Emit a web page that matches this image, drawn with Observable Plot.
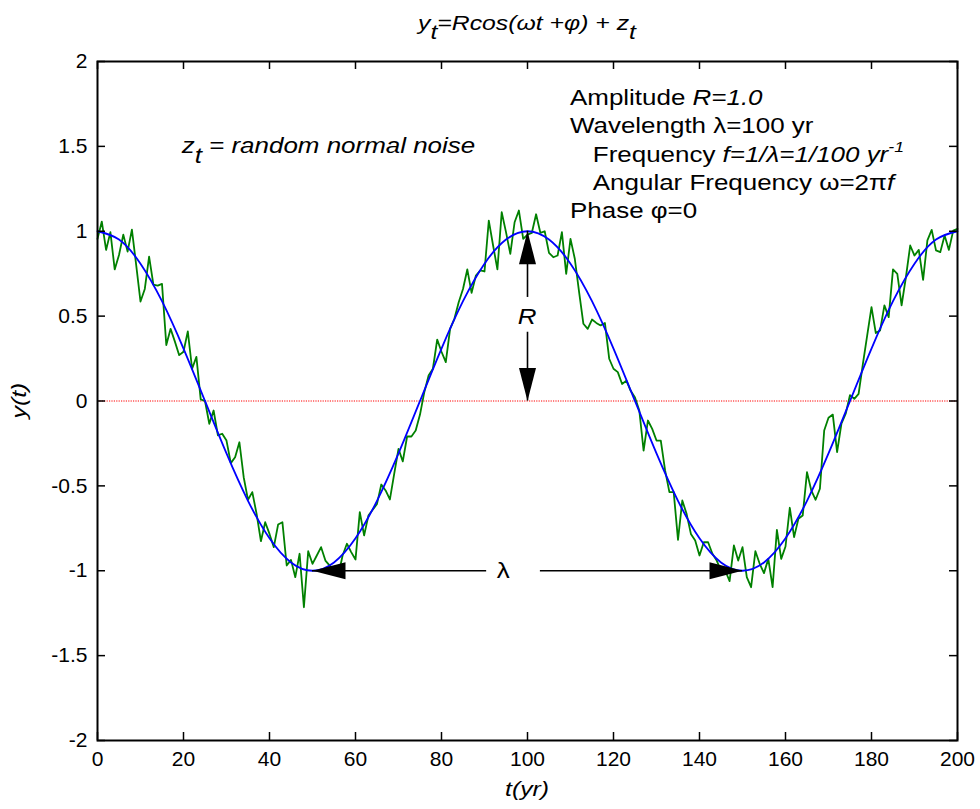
<!DOCTYPE html>
<html><head><meta charset="utf-8">
<script src="https://cdn.jsdelivr.net/npm/d3@7"></script>
<script src="https://cdn.jsdelivr.net/npm/@observablehq/plot@0.6"></script>
<style>
body{margin:0;background:#fff}
svg{font-family:"Liberation Sans",Arial,sans-serif}
</style>
</head><body><div id="chart"></div>
<script>
// ---------- data ----------
const noisyY = [
 0.955,1.057,0.89,0.995,0.775,0.86,0.98,0.88,1.01,0.80,
 0.586,0.66,0.85,0.685,0.68,0.69,0.33,0.425,0.35,0.27,
 0.29,0.41,0.19,0.26,0.01,0.0,-0.134,-0.056,-0.203,-0.193,
 -0.233,-0.366,-0.331,-0.243,-0.449,-0.582,-0.537,-0.665,-0.826,-0.714,
 -0.783,-0.861,-0.728,-0.714,-0.969,-0.936,-1.038,-0.90,-1.215,-0.885,
 -0.959,-0.91,-0.861,-0.94,-0.97,-1.008,-1.028,-0.91,-0.841,-0.89,
 -0.934,-0.655,-0.792,-0.675,-0.641,-0.606,-0.492,-0.527,-0.58,-0.429,
 -0.282,-0.356,-0.209,-0.209,-0.174,-0.08,0.052,0.15,0.19,0.362,
 0.29,0.229,0.425,0.484,0.582,0.66,0.775,0.637,0.739,0.769,
 0.763,1.063,0.916,0.775,1.112,0.995,0.867,1.053,1.122,0.955,
 0.98,0.99,1.10,0.99,1.00,0.873,0.847,0.857,0.995,0.749,
 0.955,0.838,0.641,0.455,0.425,0.48,0.46,0.445,0.46,0.249,
 0.19,0.17,0.10,0.12,0.06,0.02,-0.056,-0.292,-0.115,-0.164,
 -0.233,-0.233,-0.409,-0.537,-0.537,-0.818,-0.586,-0.665,-0.783,-0.822,
 -0.91,-0.832,-0.832,-0.90,-0.94,-0.999,-1.0,-1.061,-0.851,-0.94,
 -0.861,-1.038,-1.097,-0.885,-0.959,-1.014,-0.93,-1.097,-0.759,-0.93,
 -0.857,-0.629,-0.802,-0.694,-0.675,-0.419,-0.527,-0.582,-0.517,-0.174,
 -0.099,-0.08,-0.301,-0.134,-0.075,0.035,0.013,0.042,0.219,0.386,
 0.553,0.40,0.415,0.563,0.494,0.775,0.749,0.563,0.729,0.916,
 0.857,0.89,0.714,0.946,1.008,0.887,0.877,0.975,0.89,1.004,
 1.014
];
const noisyT = noisyY.map((_, i) => i);   // one value per year, t = 0..200

const cosT = [0,5,10,15,20,25,30,35,40,45,50,55,60,65,70,75,80,85,90,95,100,
              105,110,115,120,125,130,135,140,145,150,155,160,165,170,175,180,185,190,195,200];
const cosY = [1,0.951,0.809,0.588,0.309,0,-0.309,-0.588,-0.809,-0.951,-1,-0.951,-0.809,-0.588,-0.309,0,0.309,0.588,0.809,0.951,1,
              0.951,0.809,0.588,0.309,0,-0.309,-0.588,-0.809,-0.951,-1,-0.951,-0.809,-0.588,-0.309,0,0.309,0.588,0.809,0.951,1];

const xTicks = [0,20,40,60,80,100,120,140,160,180,200];
const xTickLabels = ["0","20","40","60","80","100","120","140","160","180","200"];
const yTicks = [-2,-1.5,-1,-0.5,0,0.5,1,1.5,2];
const yTickLabels = ["-2","-1.5","-1","-0.5","0","0.5","1","1.5","2"];

// annotation anchors (data units)
const rArrowSegs = [{x:100, y1:1, y2:0.61}, {x:100, y1:0.405, y2:0}];
const lambdaSegs = [{y:-1, x1:50, x2:90.5}, {y:-1, x1:103, x2:150}];
const headUp = [{x:100, y:1}], headDown = [{x:100, y:0}];
const headLeft = [{x:50, y:-1}], headRight = [{x:150, y:-1}];

// ---------- build ----------
const FONT = '"Liberation Sans", Arial, sans-serif';
const W = 980, H = 809, mL = 97, mR = 23, mT = 61, mB = 69;
const innerW = W - mL - mR, innerH = H - mT - mB, TL = 8;
const SX = 1.18;

const noisy = noisyT.map((t, i) => ({t, v: noisyY[i]}));
const clean = cosT.map((t, i) => ({t, v: cosY[i]}));

const HL = 33, HW = 8.5;
const sym = (dir) => ({draw(ctx){
  if (dir === "up")    { ctx.moveTo(0,0); ctx.lineTo(-HW,HL); ctx.lineTo(HW,HL); }
  if (dir === "down")  { ctx.moveTo(0,0); ctx.lineTo(-HW,-HL); ctx.lineTo(HW,-HL); }
  if (dir === "left")  { ctx.moveTo(0,0); ctx.lineTo(HL,-HW); ctx.lineTo(HL,HW); }
  if (dir === "right") { ctx.moveTo(0,0); ctx.lineTo(-HL,-HW); ctx.lineTo(-HL,HW); }
  ctx.closePath();
}});

const chart = Plot.plot({
  width: W, height: H,
  marginLeft: mL, marginRight: mR, marginTop: mT, marginBottom: mB,
  style: {fontFamily: FONT, fontSize: "21px", background: "white", color: "black"},
  x: {domain: [0, 200], label: null},
  y: {domain: [-2, 2], label: null},
  marks: [
    Plot.ruleY([0], {stroke: "red", strokeWidth: 1, strokeDasharray: "1.2,1.2"}),
    Plot.line(noisy, {x: "t", y: "v", stroke: "#008000", strokeWidth: 1.8}),
    Plot.line(clean, {x: "t", y: "v", stroke: "#0000ff", strokeWidth: 1.8, curve: "natural"}),
    Plot.ruleX(rArrowSegs, {x: "x", y1: "y1", y2: "y2", stroke: "black", strokeWidth: 1.6}),
    Plot.ruleY(lambdaSegs, {y: "y", x1: "x1", x2: "x2", stroke: "black", strokeWidth: 1.6}),
    Plot.dot(headUp, {x: "x", y: "y", symbol: sym("up"), fill: "black", stroke: "none"}),
    Plot.dot(headDown, {x: "x", y: "y", symbol: sym("down"), fill: "black", stroke: "none"}),
    Plot.dot(headLeft, {x: "x", y: "y", symbol: sym("left"), fill: "black", stroke: "none"}),
    Plot.dot(headRight, {x: "x", y: "y", symbol: sym("right"), fill: "black", stroke: "none"}),
    Plot.frame({stroke: "black", strokeWidth: 2}),
    Plot.tickX(xTicks, {x: d => d, insetTop: innerH - TL, stroke: "black", strokeWidth: 1.5}),
    Plot.tickX(xTicks, {x: d => d, insetBottom: innerH - TL, stroke: "black", strokeWidth: 1.5}),
    Plot.tickY(yTicks, {y: d => d, insetRight: innerW - TL, stroke: "black", strokeWidth: 1.5}),
    Plot.tickY(yTicks, {y: d => d, insetLeft: innerW - TL, stroke: "black", strokeWidth: 1.5}),
    Plot.axisX(xTicks, {tickSize: 0, tickPadding: 11, fontSize: 21, label: null,
      tickFormat: d => xTickLabels[xTicks.indexOf(d)]}),
    Plot.axisY(yTicks, {tickSize: 0, tickPadding: 10, fontSize: 21, label: null,
      tickFormat: d => yTickLabels[yTicks.indexOf(d)]})
  ]
});
document.getElementById("chart").appendChild(chart);

// ---------- rich text annotations, positioned with the plot's scales ----------
const svg = d3.select(chart);
const xs = chart.scale("x"), ys = chart.scale("y");
const X = v => xs.apply(v), Y = v => ys.apply(v);

function addText(px, py, parts, {anchor = "start", size = 22, sx = SX, rotate = 0, baseline = null} = {}) {
  const t = svg.append("text")
    .attr("transform", `translate(${px},${py})${rotate ? ` rotate(${rotate})` : ""} scale(${sx},1)`)
    .attr("text-anchor", anchor).attr("font-size", size)
    .attr("font-family", FONT).attr("fill", "black");
  if (baseline) t.attr("dominant-baseline", baseline);
  for (const p of parts) {
    const ts = t.append("tspan").text(p.s);
    if (p.i) ts.attr("font-style", "italic");
    if (p.dy) ts.attr("dy", p.dy);
    if (p.fs) ts.attr("font-size", p.fs);
  }
  return t;
}

// title
addText(X(100), 30, [
  {s: "y", i: 1}, {s: "t", i: 1, dy: 9}, {s: "=Rcos(ωt +φ) + z", i: 1, dy: -9}, {s: "t", i: 1, dy: 9}
], {anchor: "middle", size: 21});

// info block
const infoX1 = 110, infoX2 = 115.3;
addText(X(infoX1), Y(1.741), [{s: "Amplitude "}, {s: "R=1.0", i: 1}]);
addText(X(infoX1), Y(1.574), [{s: "Wavelength λ=100 yr"}]);
addText(X(infoX2), Y(1.407), [{s: "Frequency "}, {s: "f=1/λ=1/100 yr", i: 1}, {s: "-1", i: 1, dy: -10, fs: 15}]);
addText(X(infoX2), Y(1.240), [{s: "Angular Frequency ω=2π"}, {s: "f", i: 1}]);
addText(X(infoX1), Y(1.073), [{s: "Phase φ=0"}]);

// noise note
addText(X(19.7), Y(1.458), [{s: "z", i: 1}, {s: "t", i: 1, dy: 10}, {s: " = random normal noise", i: 1, dy: -10}]);

// arrow labels
addText(X(100), Y(0.5), [{s: "R", i: 1}], {anchor: "middle", baseline: "central"});
addText(X(94.5), Y(-1), [{s: "λ"}], {anchor: "middle", baseline: "central"});

// axis labels
addText(X(100), 796, [{s: "t(yr)", i: 1}], {anchor: "middle", size: 21});
addText(26, Y(0), [{s: "y(t)", i: 1}], {anchor: "middle", size: 21, rotate: -90});
</script>
</body></html>
